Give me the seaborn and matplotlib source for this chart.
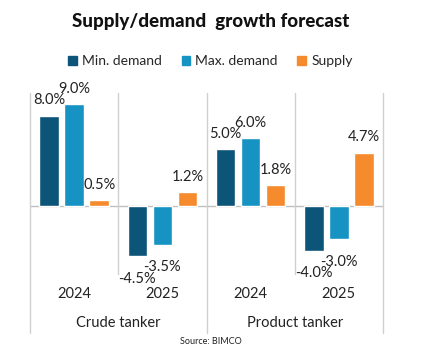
import pandas as pd
import matplotlib.pyplot as plt
import seaborn as sns
from matplotlib.transforms import blended_transform_factory

# values (% growth)
groups = ['Crude tanker', 'Product tanker']
years = ['2024', '2025']
series = ['Min. demand', 'Max. demand', 'Supply']
min_demand = [8.0, -4.5, 5.0, -4.0]
max_demand = [9.0, -3.5, 6.0, -3.0]
supply = [0.5, 1.2, 1.8, 4.7]
colors = ['#0d5479', '#1693c3', '#f58b2d']

cats = [g + ' ' + y for g in groups for y in years]
df = pd.DataFrame({
    'cat': cats * 3,
    'series': [s for s in series for _ in cats],
    'value': min_demand + max_demand + supply,
})

sns.set_style('white')
plt.rcParams['font.family'] = ['Lato', 'DejaVu Sans']

W, H = 421, 364
fig = plt.figure(figsize=(W / 100, H / 100), dpi=100)
# axes: x 30..383 px, y 93..262 px
ax = fig.add_axes([30 / W, 1 - 262 / H, (383 - 30) / W, (262 - 93) / H])

sns.barplot(data=df, x='cat', y='value', hue='series', order=cats,
            hue_order=series, palette=colors, width=0.85, gap=0.22,
            saturation=1, ax=ax, legend=False)

ax.set_ylim(-5, 10)
ax.set_xlim(-0.5, 3.5)
for s in ax.spines.values():
    s.set_visible(False)
ax.set_xticks([])
ax.set_yticks([])
ax.set_xlabel('')
ax.set_ylabel('')
ax.axhline(0, color='#bfbfbf', lw=1, zorder=0)

# data labels, a bit more room under the negative bars
for cont in ax.containers:
    vals = cont.datavalues
    ax.bar_label(cont, labels=[f'{v:.1f}%' if v >= 0 else '' for v in vals],
                 padding=6, fontsize=10.5, color='#222222')
    ax.bar_label(cont, labels=[f'{v:.1f}%' if v < 0 else '' for v in vals],
                 padding=11, fontsize=10.5, color='#222222')

tr = blended_transform_factory(ax.transData, ax.transAxes)
def ay(py):
    return (262 - py) / (262 - 93)

for x in [-0.5, 1.5, 3.5]:
    ax.plot([x, x], [1, ay(333)], color='#d0d0d0', lw=1, transform=tr,
            clip_on=False, zorder=0)
for x in [0.5, 2.5]:
    ax.plot([x, x], [1, ay(274)], color='#d0d0d0', lw=1, transform=tr,
            clip_on=False, zorder=0)

for i, c in enumerate(cats):
    ax.text(i, ay(294), c.split(' ')[-1], transform=tr, ha='center',
            va='center', fontsize=10.5, color='#222222')
for j, g in enumerate(groups):
    ax.text(2 * j + 0.5, ay(323), g, transform=tr, ha='center',
            va='center', fontsize=10.5, color='#222222')

fig.text(0.5, 1 - 22 / H, 'Supply/demand  growth forecast', ha='center',
         va='center', fontsize=13.5, fontweight='black', color='#111111')

handles = [plt.Rectangle((0, 0), 1, 1, color=c) for c in colors]
fig.legend(handles, series, loc='center', bbox_to_anchor=(0.5, 1 - 61 / H),
           ncol=3, frameon=False, fontsize=10, handlelength=0.6,
           handleheight=0.6, handletextpad=0.4, columnspacing=1.4)

fig.text(0.5, 1 - 342 / H, 'Source: BIMCO', ha='center', va='center',
         fontsize=6.5, color='#222222')

fig.savefig('out.png', dpi=100, facecolor='white')
